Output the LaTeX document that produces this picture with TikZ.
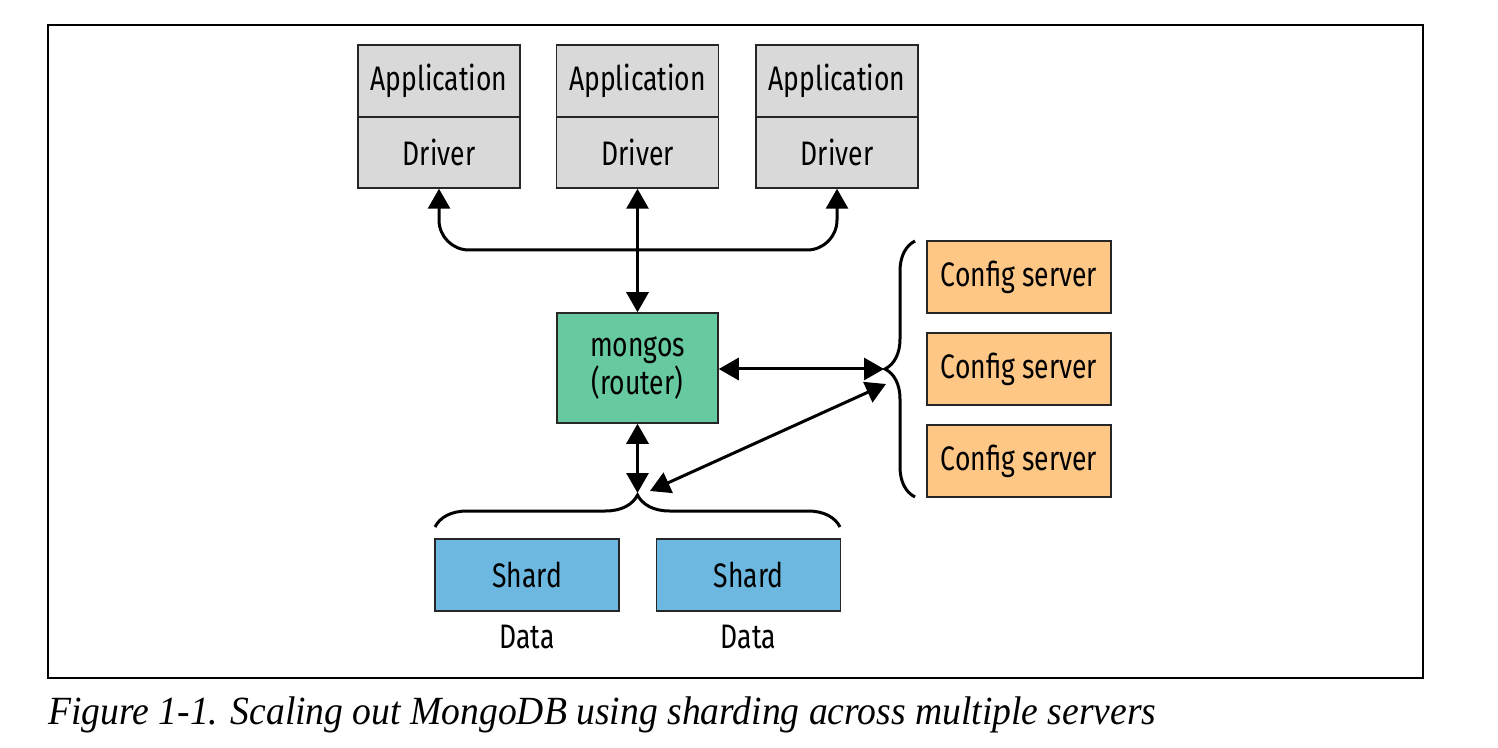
\documentclass[tikz,border=0pt]{standalone}
\usepackage{fontspec}
\setmainfont[FakeStretch=0.78]{Fira Sans}
\newfontfamily\capfont[FakeStretch=0.94]{Liberation Serif}
\usetikzlibrary{arrows.meta,decorations.pathreplacing}
\definecolor{appgray}{HTML}{D9D9D9}
\definecolor{mongogreen}{HTML}{66C9A0}
\definecolor{cfgorange}{HTML}{FFC785}
\definecolor{shardblue}{HTML}{6CB8E0}

\begin{document}
\begin{tikzpicture}[x=0.5pt,y=-0.5pt,
  box/.style={draw=black!85,line width=0.75pt,inner sep=0pt,font=\fontsize{17}{15.5}\selectfont},
  appbox/.style={box,fill=appgray,minimum width=81pt,minimum height=36pt},
  cfgbox/.style={box,fill=cfgorange,minimum width=92pt,minimum height=36pt},
  shardbox/.style={box,fill=shardblue,minimum width=92pt,minimum height=36pt},
  link/.style={line width=1.5pt,{Triangle[length=10pt,width=11pt]}-{Triangle[length=10pt,width=11pt]}},
  curly/.style={line width=1.5pt,decorate,decoration={brace}}]
  \useasboundingbox (0,0) rectangle (1498,748);
  \draw [line width=0.75pt] (48,25) rectangle (1423,678);
  \foreach \x/\n in {439/1,637.5/2,837/3} {
    \node [appbox] (app\n) at (\x,81) {Application};
    \node [appbox,minimum height=35.5pt] (drv\n) at (\x,152.5) {Driver};
  }
  \node [box,fill=mongogreen,minimum width=80.5pt,minimum height=55pt,align=center] (mongos) at (637.5,368) {mongos\\(router)};
  \foreach \y/\n in {277/1,369/2,461/3}
    \node [cfgbox] (cfg\n) at (1019,\y) {Config server};
  \node [shardbox] (shard1) at (527,575) {Shard};
  \node [shardbox] (shard2) at (748.5,575) {Shard};
  \node [font=\fontsize{17}{15.5}\selectfont] (data1) at (527,637) {Data};
  \node [font=\fontsize{17}{15.5}\selectfont] (data2) at (748.5,637) {Data};
  \draw [curly,decoration={amplitude=15pt}] (915,497) -- (915,241);
  \draw [curly,decoration={amplitude=16pt}] (435,527) -- (840,527);
  \coordinate (cfgtip) at (884,369);
  \coordinate (cfgdiag) at (886,384);
  \coordinate (shardtip) at (637.5,493);
  \coordinate (sharddiag) at (650,491);
  \draw [link,rounded corners=15pt] (drv1.south) -- (drv1.south |- 0,250) -- (drv3.south |- 0,250) -- (drv3.south);
  \draw [link] (drv2.south) -- (mongos.north);
  \draw [link] (mongos.east |- cfgtip) -- (cfgtip);
  \draw [link] (mongos.south) -- (shardtip);
  \draw [link] (cfgdiag) -- (sharddiag);
  \node [anchor=base west,inner sep=0pt,font=\capfont\itshape\fontsize{20}{21}\selectfont] (caption) at (48,724) {Figure 1-1. Scaling out MongoDB using sharding across multiple servers};
\end{tikzpicture}
\end{document}
